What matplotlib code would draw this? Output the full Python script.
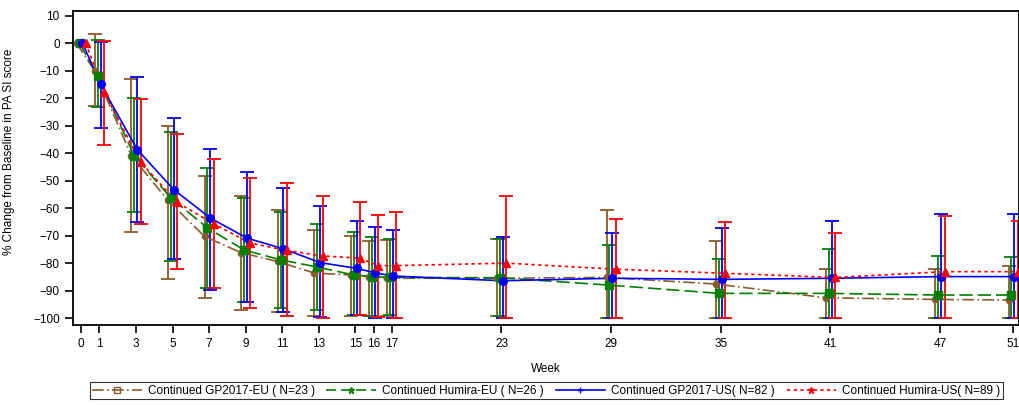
import matplotlib
matplotlib.use("Agg")
import matplotlib.pyplot as plt
from matplotlib.lines import Line2D
import numpy as np

plt.rcParams['font.family'] = ['Liberation Sans Narrow', 'Liberation Sans', 'DejaVu Sans']

weeks = [0, 1, 3, 5, 7, 9, 11, 13, 15, 16, 17, 23, 29, 35, 41, 47, 51]

# mean % change, upper and lower error bar ends
gp_eu_mean = [0, -10.2, -41.0, -57.2, -70.3, -76.2, -79.4, -83.6, -84.3, -84.9, -85.5, -85.5, -85.2, -87.6, -92.6, -93.2, -93.4]
gp_eu_hi = [0, 3.3, -13.1, -30.2, -48.2, -55.5, -60.6, -68.1, -70.3, -71.8, -71.5, -71.3, -60.8, -71.8, -82.2, -82.2, -80.9]
gp_eu_lo = [0, -23.0, -68.8, -85.8, -92.6, -97.0, -97.8, -99.3, -99.3, -99.3, -99.3, -99.3, -100, -100, -100, -100, -100]

hu_eu_mean = [0, -12.0, -41.0, -56.3, -67.2, -75.2, -78.8, -81.4, -84.3, -84.9, -85.2, -85.3, -88.0, -91.0, -91.0, -91.6, -91.6]
hu_eu_hi = [0, 1.0, -19.8, -32.4, -45.3, -56.3, -61.4, -65.7, -68.7, -70.5, -71.2, -71.1, -73.4, -78.6, -74.9, -77.3, -77.8]
hu_eu_lo = [0, -23.4, -61.4, -79.2, -88.9, -94.0, -96.4, -97.0, -98.9, -99.3, -99.0, -99.3, -100, -100, -100, -100, -100]

gp_us_mean = [0, -15.0, -38.7, -53.3, -63.6, -70.9, -74.8, -79.8, -81.9, -83.5, -84.7, -86.4, -85.5, -85.9, -85.5, -84.9, -84.9]
gp_us_hi = [0, 0.5, -12.5, -27.4, -38.4, -46.8, -52.6, -59.1, -64.5, -66.7, -68.1, -70.6, -68.9, -67.4, -64.5, -62.2, -62.2]
gp_us_lo = [0, -31.0, -65.2, -78.6, -89.8, -94.3, -97.8, -99.5, -98.9, -100, -100, -100, -100, -100, -100, -100, -100]

hu_us_mean = [0, -17.8, -43.3, -57.9, -65.7, -72.7, -75.4, -77.4, -78.2, -80.9, -80.9, -80.0, -82.2, -83.7, -85.2, -83.1, -83.1]
hu_us_hi = [0, 0.8, -20.4, -33.2, -42.0, -49.0, -51.0, -55.5, -57.8, -62.4, -61.4, -55.7, -63.9, -65.1, -68.9, -63.0, -64.5]
hu_us_lo = [0, -37.0, -65.7, -82.2, -89.0, -96.3, -99.3, -99.9, -98.9, -99.5, -100, -100, -100, -100, -100, -100, -100]

labels = ['Continued GP2017-EU ( N=23 )', 'Continued Humira-EU ( N=26 )',
          'Continued GP2017-US( N=82 )', 'Continued Humira-US( N=89 )']

# mean, hi, lo, colour, linestyle, marker, marker size, x offset
series = [
    (gp_eu_mean, gp_eu_hi, gp_eu_lo, '#8B5A2B', (0, (7, 2, 1, 2)), 'o', 4.5, -0.25),
    (hu_eu_mean, hu_eu_hi, hu_eu_lo, '#008000', (0, (8, 3)), 's', 5.5, -0.09),
    (gp_us_mean, gp_us_hi, gp_us_lo, '#0000FF', '-', 'o', 5.5, 0.07),
    (hu_us_mean, hu_us_hi, hu_us_lo, '#FF0000', (0, (2, 2)), '^', 5.5, 0.25),
]

fig = plt.figure(figsize=(10.19, 4.05), dpi=100)
ax = fig.add_axes([0.0716, 0.1975, 0.928, 0.7755])

wk = np.array(weeks, dtype=float)
for mean, hi, lo, color, ls, mk, ms, off in series:
    mean = np.array(mean)
    x = wk + off
    yerr = np.vstack([mean - np.array(lo), np.array(hi) - mean])
    ax.errorbar(x[1:], mean[1:], yerr=yerr[:, 1:], fmt='none', ecolor=color,
                elinewidth=1.3, capsize=5, capthick=1.3, zorder=2)
    ax.plot(x, mean, color=color, linestyle=ls, linewidth=1.2, zorder=3)
    ax.plot(x, mean, color=color, linestyle='none', marker=mk, markersize=ms, zorder=4)

ax.set_xlim(-0.45, 51.3)
ax.set_ylim(-102.5, 11.7)
ax.set_xticks(weeks)
ax.set_yticks(np.arange(-100, 11, 10))
ax.tick_params(axis='both', direction='out', length=6, width=1.2, labelsize=8.5, colors='black')
for s in ax.spines.values():
    s.set_linewidth(1.3)
ax.set_xlabel('Week', fontsize=8.5, labelpad=9)
ax.set_ylabel('% Change from Baseline in PA SI score', fontsize=8.5)
ax.yaxis.set_label_coords(-0.061, 0.55)

handles = [
    Line2D([], [], color='#8B5A2B', linestyle=(0, (7, 2, 1, 2)), marker='s', mfc='none', markersize=4, lw=1.2),
    Line2D([], [], color='#008000', linestyle=(0, (6, 3)), marker='*', markersize=5, lw=1.2),
    Line2D([], [], color='#0000FF', linestyle='-', marker='+', markersize=5, lw=1.2),
    Line2D([], [], color='#FF0000', linestyle=(0, (2, 2)), marker='*', markersize=5, lw=1.2),
]
leg = fig.legend(handles, labels, loc='lower center', bbox_to_anchor=(0.536, 0.0), ncol=4,
                 fontsize=8.5, frameon=True, fancybox=False, edgecolor='black',
                 handlelength=4.2, columnspacing=1.0, borderpad=0.2, handletextpad=0.5)
leg.get_frame().set_linewidth(0.8)

fig.savefig('out.png', dpi=100)
